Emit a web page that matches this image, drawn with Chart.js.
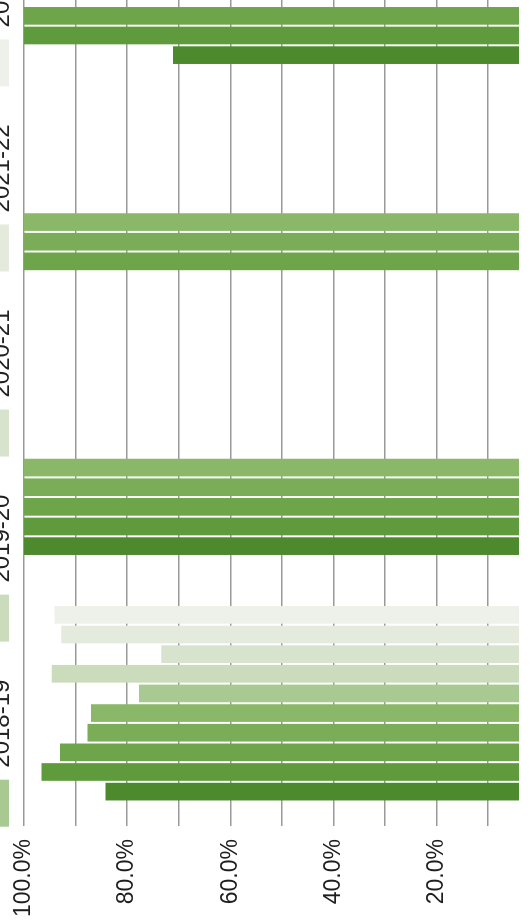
<!DOCTYPE html>
<html lang="en">
<head>
<meta charset="UTF-8">
<title>Chart</title>
<script src="https://cdn.jsdelivr.net/npm/chart.js"></script>
<style>
  html, body { margin: 0; padding: 0; background: #fff; overflow: hidden; width: 531px; height: 922px; }
  #wrap { position: relative; width: 531px; height: 922px; overflow: hidden; }
  /* the chart is drawn upright, then turned a quarter turn to the left like the scan */
  #chart { position: absolute; left: 0; top: 0; transform-origin: 0 0; transform: translate(-48px, 922px) rotate(-90deg); }
</style>
</head>
<body>
<div id="wrap"><canvas id="chart" width="1085" height="600"></canvas></div>

<script>
    // data
    const categories = ['1', '2', '3', '4'];
    const years = ['2018-19', '2019-20', '2020-21', '2021-22', '2022-23'];
    const darkSeries = [
        [84.2, 100, null, 71.1],
        [96.6, 100, null, 100],
        [93.0, 100, 100, 100],
        [87.7, 100, 100, null],
        [87.0, 100, 100, null]
    ];
    const lightSeries = [
        [77.7, null, null, null],
        [94.6, null, null, null],
        [73.4, null, null, null],
        [92.8, null, null, null],
        [94.1, null, null, null]
    ];
    const valueTicks = [20, 40, 60, 80, 100];

    const darkColors = ['#4d8a2d', '#5f9b3d', '#6ea54b', '#7bad59', '#8ab868'];
    const lightColors = ['#a8c992', '#cbdcbd', '#d8e3cd', '#e4ebdc', '#eef1ea'];

    const font = '"Liberation Sans", Arial, sans-serif';

    const datasets = [];
    darkSeries.forEach((d, i) => datasets.push({ label: years[i], data: d, backgroundColor: darkColors[i] }));
    lightSeries.forEach((d, i) => datasets.push({ label: years[i], data: d, backgroundColor: lightColors[i] }));

    const ctx = document.getElementById('chart').getContext('2d');
    new Chart(ctx, {
        type: 'bar',
        data: { labels: categories, datasets: datasets },
        options: {
            responsive: false,
            animation: false,
            layout: { padding: { left: 0, right: 7, top: 0, bottom: 33 } },
            plugins: {
                legend: {
                    position: 'top',
                    labels: {
                        // only the second legend row is inside the scan
                        filter: (item) => item.datasetIndex >= darkSeries.length,
                        boxWidth: 47,
                        boxHeight: 14,
                        padding: 38,
                        color: '#222',
                        font: { family: font, size: 24 }
                    }
                },
                tooltip: { enabled: false }
            },
            scales: {
                x: { display: false },
                y: {
                    min: 4,
                    max: 100,
                    afterBuildTicks: (s) => { s.ticks = s.ticks.filter(t => t.value % 10 === 0); },
                    afterFit: (s) => { s.width = 96; },
                    border: { display: false },
                    grid: { color: '#999', lineWidth: 1.5, drawTicks: false },
                    ticks: {
                        stepSize: 10,
                        padding: 13,
                        color: '#1e1e1e',
                        font: { family: font, size: 23 },
                        callback: (v) => valueTicks.includes(v) ? v.toFixed(1) + '%' : ''
                    }
                }
            }
        }
    });
</script>
</body>
</html>
